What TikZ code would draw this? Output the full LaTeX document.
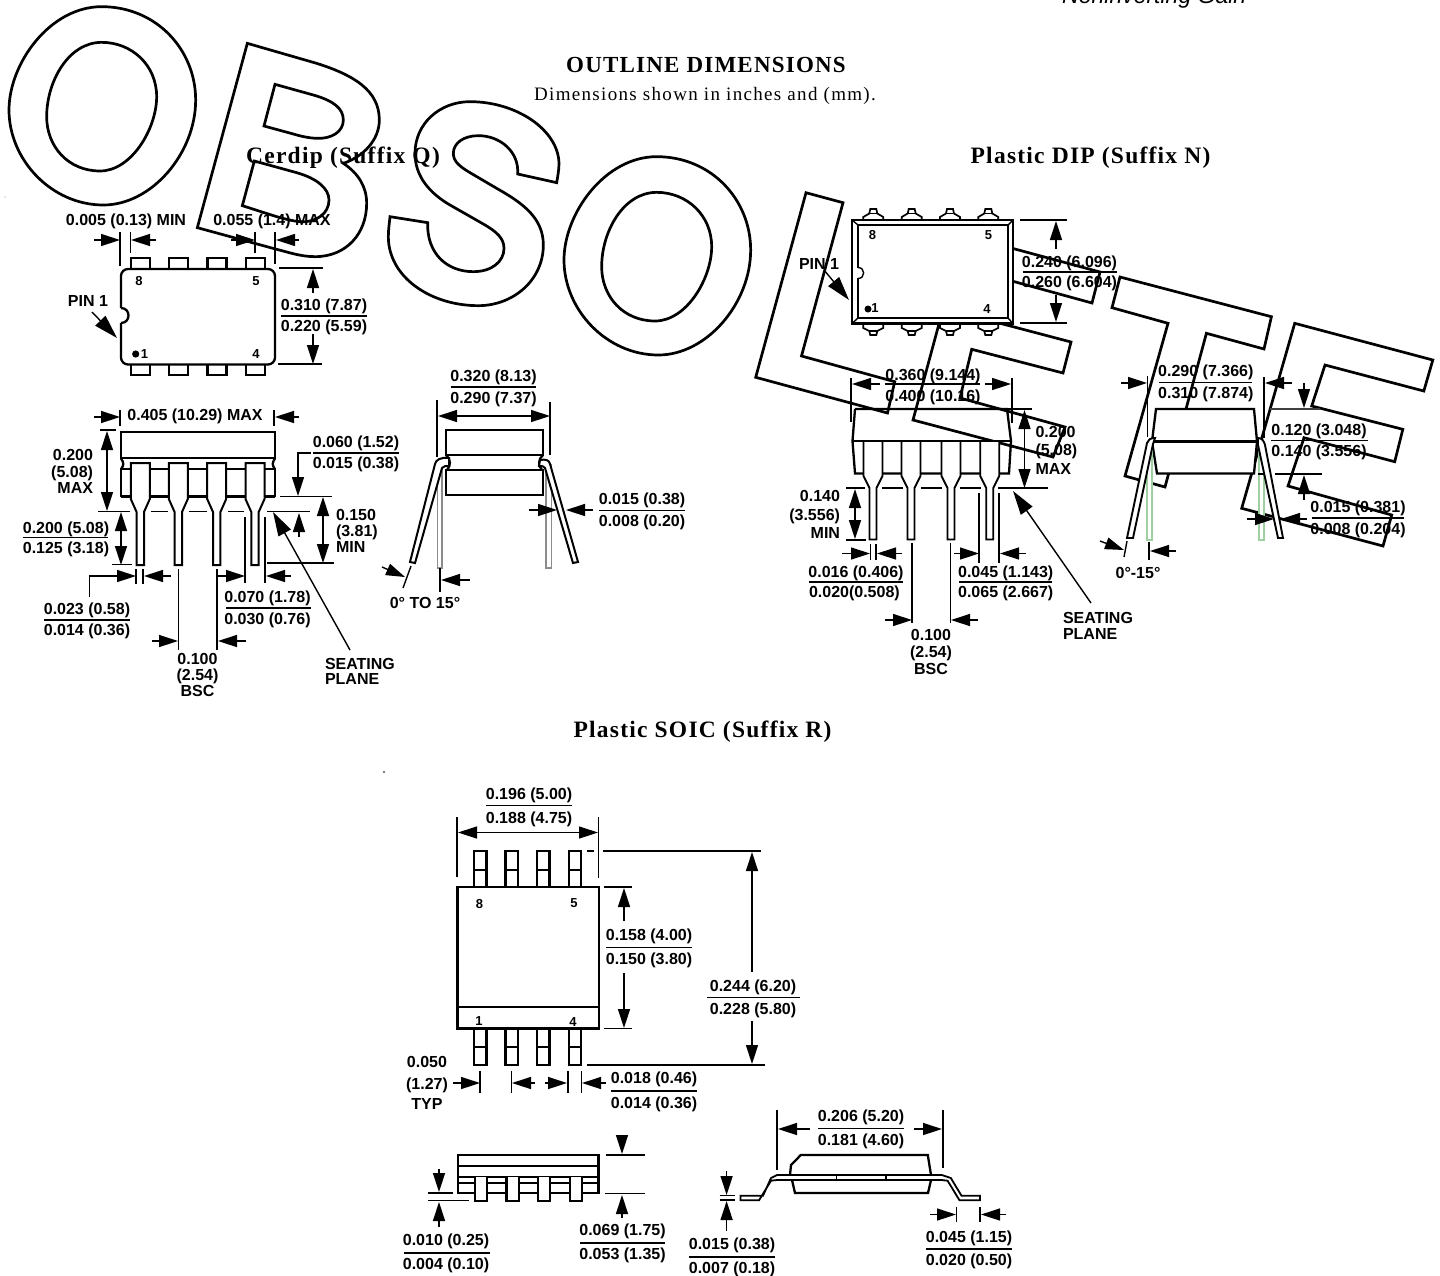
\documentclass[tikz,border=0pt]{standalone}
\usepackage{fontspec}
\setmainfont{Liberation Serif}
\newfontfamily\dimfam{Liberation Sans}
\newfontfamily\headfam{Liberation Serif}[LetterSpace=5.3]
\newfontfamily\subfam{Liberation Serif}[LetterSpace=7]
\newfontfamily\ruhfam{Liberation Sans}
\usetikzlibrary{arrows.meta}
\tikzset{
  dimline/.style={line width=1.4pt},
  dimarrow/.style={line width=1.4pt,-{Triangle[length=19pt,width=12pt]}},
  bothways/.style={line width=1.4pt,{Triangle[length=19pt,width=12pt]}-{Triangle[length=19pt,width=12pt]}},
  longarrow/.style={line width=1.4pt,-{Triangle[length=24pt,width=14pt]}},
  partline/.style={line width=2.3pt,line join=miter},
  letterline/.style={line width=2.7pt,line join=miter},
  dimtext/.style={font=\dimfam\bfseries\fontsize{16}{16}\selectfont,inner sep=0pt,outer sep=0pt},
  pintext/.style={font=\dimfam\bfseries\fontsize{13}{13}\selectfont,inner sep=0pt,outer sep=0pt},
  headtext/.style={font=\headfam\bfseries\fontsize{23}{23}\selectfont,inner sep=0pt},
  subheadtext/.style={font=\headfam\bfseries\fontsize{23.5}{23.5}\selectfont,inner sep=0pt},
  lighttext/.style={font=\subfam\fontsize{19}{19}\selectfont,inner sep=0pt},
  runhead/.style={font=\ruhfam\itshape\fontsize{23}{23}\selectfont,inner sep=0pt},
}
\newcounter{lblno}
% \dl[anchor]{x,y centre}{text}
\newcommand\dl[3][base]{\stepcounter{lblno}\node[dimtext,anchor=#1,yshift=-5.7pt] (d\arabic{lblno}) at (#2) {#3};}
\newcommand\pl[2]{\stepcounter{lblno}\node[pintext,anchor=center] (d\arabic{lblno}) at (#1) {#2};}
% \frc{cx}{y1}{yr}{y2}{x1}{x2}{top}{bottom}
\newcommand\frc[8]{\dl{#1,#2}{#7}\dl{#1,#4}{#8}\draw[dimline] (#5,#3) -- (#6,#3);}
\newcommand\Ostroke{%
  \draw[letterline] (305,20) .. controls (470,20) and (587,150) .. (587,300) .. controls (587,460) and (455,615) .. (310,615) .. controls (155,615) and (27,480) .. (27,330) .. controls (27,190) and (150,20) .. (305,20) -- cycle;
  \draw[letterline] (305,127) .. controls (395,127) and (470,195) .. (470,290) .. controls (470,385) and (395,513) .. (300,513) .. controls (205,513) and (140,440) .. (140,350) .. controls (140,245) and (205,127) .. (305,127) -- cycle;
}
\begin{document}
\begin{tikzpicture}[x=1pt,y=-1pt]
\useasboundingbox (0,0) rectangle (1440,1275);
\clip (0,0) rectangle (1440,1275);
\fill[white] (0,0) rectangle (1440,1275);

% ---- OBSOLETE outline letters ----
\begin{scope}[x=0.33333pt,y=-0.33333pt]
\Ostroke
\draw[letterline] (742,130) -- (950,190) .. controls (1060,225) and (1138,270) .. (1138,360) .. controls (1138,420) and (1090,470) .. (1030,490) .. controls (1075,520) and (1100,560) .. (1100,610) .. controls (1100,700) and (1040,770) .. (945,770) .. controls (900,770) and (860,755) .. (830,748) -- (592,683) -- cycle;
\draw[letterline] (825,253) -- (940,285) .. controls (1000,302) and (1030,325) .. (1030,360) .. controls (1030,395) and (995,417) .. (950,415) .. controls (925,414) and (900,408) .. (880,402) -- (792,378) -- cycle;
\draw[letterline] (763,483) -- (890,518) .. controls (950,535) and (987,565) .. (987,600) .. controls (987,640) and (950,668) .. (900,665) .. controls (875,663) and (850,655) .. (830,650) -- (727,617) -- cycle;
\end{scope}
\begin{scope}[shift={(380,40)},x=0.33333pt,y=-0.33333pt]
\draw[letterline] (530,428) -- (413,402) .. controls (418,335) and (360,287) .. (295,287) .. controls (250,287) and (220,310) .. (220,340) .. controls (220,365) and (240,380) .. (270,398) -- (350,445) .. controls (430,490) and (490,535) .. (490,615) .. controls (490,720) and (400,797) .. (295,797) .. controls (150,797) and (25,710) .. (25,590) .. controls (25,570) and (28,550) .. (30,530) -- (143,548) .. controls (140,640) and (200,695) .. (280,695) .. controls (335,695) and (372,665) .. (372,625) .. controls (372,595) and (350,575) .. (310,552) -- (210,495) .. controls (150,460) and (105,410) .. (105,340) .. controls (105,250) and (180,185) .. (270,185) .. controls (410,185) and (535,270) .. (537,370) .. controls (537,390) and (533,410) .. (530,428) -- cycle;
\end{scope}
\begin{scope}[shift={(555,150)},x=0.33333pt,y=-0.33333pt]
\Ostroke
\end{scope}
% L
\draw[letterline] (806,192.7) -- (843,202.7) -- (801.5,356) -- (894.7,381.7) -- (887.5,413) -- (755.7,377.3) -- cycle;
% E
\draw[letterline] (963,235) -- (1100,272) -- (1092,303) -- (990,275) -- (980,318) -- (1071,342) -- (1063,373) -- (971.7,349.3) -- (960,398) -- (1065,427) -- (1053,457) -- (913,420) -- cycle;
% T
\draw[letterline] (1120,277) -- (1271.4,316.7) -- (1264,349) -- (1206.4,333.3) -- (1165,487) -- (1125,476) -- (1168,323.3) -- (1112,307.7) -- cycle;
% E
\draw[letterline] (1294.7,323.3) -- (1432.8,360) -- (1423.8,391) -- (1325,365) -- (1311.7,406) -- (1402.8,429.3) -- (1394.7,461.7) -- (1304,437.7) -- (1288,486) -- (1391.7,515) -- (1383,546) -- (1241.7,508.3) -- cycle;

% ---- headings ----
\node[runhead,anchor=base west] (runhd) at (1062,3.5) {Noninverting Gain};
\node[headtext,anchor=center] (h1) at (706,65) {OUTLINE DIMENSIONS};
\node[lighttext,anchor=center] (h2) at (705,96) {Dimensions shown in inches and (mm).};
\node[subheadtext,anchor=center] (h3) at (343,158) {Cerdip (Suffix Q)};
\node[subheadtext,anchor=center] (h4) at (1090.5,158) {Plastic DIP (Suffix N)};
\node[subheadtext,anchor=center] (h5) at (702.5,732) {Plastic SOIC (Suffix R)};
\fill[black!40] (5,197) circle (0.7);
\fill (384,772) circle (0.9);

% ---- Cerdip top view ----
\foreach \c in {140.3,178.7,217,255.3}{
  \draw[partline,fill=white] (\c-9.5,269) -- (\c-9.5,258) -- (\c+9.5,258) -- (\c+9.5,269);
  \draw[partline,fill=white] (\c-9.5,365) -- (\c-9.5,375) -- (\c+9.5,375) -- (\c+9.5,365);
}
\draw[partline,fill=white,rounded corners=7pt] (121,269) rectangle (275,364.5);
\fill[white] (119,308) rectangle (122.5,323);
\draw[partline,fill=white] (121,308) .. controls (131,308) and (131,323) .. (121,323);
\pl{139,281}{8}\pl{256,281}{5}\pl{144.5,354}{1}\pl{256,354}{4}
\fill (135.7,354) circle (3.6);
\dl{88,301}{PIN 1}
\draw[longarrow] (92,312) -- (117,338);
\dl{126,219.5}{0.005 (0.13) MIN}
\dl{272,219.5}{0.055 (1.4) MAX}
\draw[dimarrow] (94,240) -- (120,240);
\draw[dimarrow] (156,240) -- (131,240);
\draw[dimline] (120,232) -- (120,266) (130.5,232) -- (130.5,253);
\draw[dimarrow] (231,240) -- (255,240);
\draw[dimarrow] (299,240) -- (276,240);
\draw[dimline] (255,232) -- (255,253) (275,232) -- (275,264);
\draw[dimline] (279,268) -- (323,268) (278,364) -- (322,364);
\draw[dimarrow] (313,293) -- (313,269);
\draw[dimarrow] (313,334) -- (313,364);
\frc{324}{305}{316}{326}{281}{367}{0.310 (7.87)}{0.220 (5.59)}

% ---- Cerdip front view ----
\dl{195,415}{0.405 (10.29) MAX}
\draw[dimarrow] (94,417) -- (120,417);
\draw[dimarrow] (299,417) -- (275,417);
\draw[dimline] (120,410) -- (120,426) (274,410) -- (274,426);
\draw[partline] (121,458.3) -- (121,432) -- (275,432) -- (275,458.3) -- cycle;
\draw[partline] (121,496.5) -- (121,469.3) -- (275,469.3) -- (275,496.5);
\draw[partline] (121,458.3) .. controls (124,463) and (124,465) .. (121,469.3);
\draw[partline] (275,458.3) .. controls (272,463) and (272,465) .. (275,469.3);
\draw[partline] (121,496.5) -- (275,496.5);
\foreach \c in {140.3,178.3,216.7,255}{
  \draw[partline,line width=2pt,fill=white] (\c-9.5,463) -- (\c-9.5,499) -- (\c-3.7,512) -- (\c-3.7,565) -- (\c+3.7,565) -- (\c+3.7,512) -- (\c+9.5,499) -- (\c+9.5,463) -- cycle;
}
\draw[dimline] (98,511.5) -- (130,511.5) (151,511.5) -- (168,511.5) (189,511.5) -- (207,511.5) (228,511.5) -- (244,511.5) (267,511.5) -- (310,511.5);
\draw[dimline] (100,430) -- (116,430);
\draw[bothways] (107,431) -- (107,511);
\dl[base east]{93,455}{0.200}\dl[base east]{93,472}{(5.08)}\dl[base east]{93,488}{MAX}
\draw[bothways] (121,512) -- (121,565);
\draw[dimline] (112,564.5) -- (132,564.5);
\frc{66}{528}{537.7}{548}{23}{107.5}{0.200 (5.08)}{0.125 (3.18)}
\draw[dimline] (89.5,597) -- (89.5,576) -- (120,576);
\draw[dimarrow] (118,576) -- (136,576);
\draw[dimarrow] (171,576) -- (144,576);
\draw[dimline] (136,569) -- (136,584) (143,569) -- (143,584);
\frc{87}{609}{620}{630}{44}{130}{0.023 (0.58)}{0.014 (0.36)}
\draw[dimline] (178.5,569) -- (178.5,650) (217,569) -- (217,650);
\draw[dimarrow] (152,641) -- (178,641);
\draw[dimarrow] (246,641) -- (218,641);
\dl{197.5,659}{0.100}\dl{197.5,675}{(2.54)}\dl{197.5,691}{BSC}
\draw[dimline] (245,517) -- (245,583) (265,517) -- (265,583);
\draw[dimarrow] (217,576) -- (245,576);
\draw[dimarrow] (291,576) -- (266,576);
\frc{267.5}{597}{608}{619}{226}{311}{0.070 (1.78)}{0.030 (0.76)}
\dl[base west]{325,664}{SEATING}\dl[base west]{325,679}{PLANE}
\draw[longarrow] (350,650) -- (273,512);
\frc{356}{442}{453}{463}{313}{399}{0.060 (1.52)}{0.015 (0.38)}
\draw[dimline] (311,453) -- (298,453) -- (298,470);
\draw[dimarrow] (298,470) -- (298,496);
\draw[dimline] (280,496.5) -- (332,496.5);
\draw[dimarrow] (299,537) -- (299,513);
\draw[bothways] (323,497) -- (323,563);
\draw[dimline] (267,563) -- (334,563);
\dl[base west]{336,515}{0.150}\dl[base west]{336,531}{(3.81)}\dl[base west]{336,547}{MIN}

% ---- Cerdip side view ----
\frc{493.5}{376}{387}{398}{451}{536}{0.320 (8.13)}{0.290 (7.37)}
\draw[dimline] (437,400) -- (437,457) (550,402) -- (550,455);
\draw[bothways] (438,416) -- (550,416);
\draw[black!45,line width=1.4pt] (437.5,464) -- (437.5,568) -- (442,568) -- (442,466);
\draw[black!45,line width=1.4pt] (546,464) -- (546,568) -- (551.5,568) -- (551.5,464);
\draw[partline] (446,455) -- (446,430) -- (543,430) -- (543,455) -- cycle;
\draw[partline] (446,470) -- (446,495) -- (543,495) -- (543,470) -- cycle;
\draw[partline] (446,455) .. controls (451,459) and (451,466) .. (447,470);
\draw[partline] (543,455) .. controls (538,459) and (538,466) .. (542,470);
\draw[partline,line width=2pt,fill=white] (449,458) .. controls (440,457) and (436,460) .. (435,464) -- (410,562) -- (415,563) -- (442,468) .. controls (443,466) and (446,466) .. (449,466) -- cycle;
\draw[partline,line width=2pt,fill=white] (540,460) .. controls (546,459) and (549,460) .. (550,464) -- (578,562) -- (573,563) -- (545,468) .. controls (544,466) and (542,466) .. (539,466) -- cycle;
\draw[dimarrow] (529,510) -- (557,510);
\draw[dimarrow] (593,510) -- (566,510);
\frc{642}{499}{510.5}{520.7}{599}{685}{0.015 (0.38)}{0.008 (0.20)}
\draw[dimline] (403,588) -- (411,566);
\draw[dimarrow] (382,567) -- (405,577);
\draw[dimline] (440,568) -- (440,592);
\draw[dimarrow] (470,580) -- (441,580);
\dl{425,603}{0° TO 15°}

% ---- Plastic DIP top view ----
\foreach \c in {873.3,911.7,950,988.3}{
  \draw[line width=1.7pt,fill=white] (\c-10,220) -- (\c-10,217) -- (\c-4,213.5) -- (\c-3,209) -- (\c+3,209) -- (\c+4,213.5) -- (\c+10,217) -- (\c+10,220);
  \draw[line width=1.3pt] (\c-4,213.5) -- (\c+4,213.5);
  \draw[line width=1.7pt,fill=white] (\c-10,324) -- (\c-10,328) -- (\c-4,331) -- (\c-3,335) -- (\c+3,335) -- (\c+4,331) -- (\c+10,328) -- (\c+10,324);
  \draw[line width=1.3pt] (\c-4,331) -- (\c+4,331);
}
\draw[partline,line width=2.7pt,fill=white] (852,220) rectangle (1013,323.5);
\draw[line width=2.2pt] (858,225) rectangle (1008,318);
\draw[line width=1.4pt] (852,220) -- (858,225) (1013,220) -- (1008,225) (852,323.5) -- (858,318) (1013,323.5) -- (1008,318);
\fill[white] (857,268) rectangle (859.5,278);
\draw[line width=1.4pt,fill=white] (858,267.5) .. controls (865.5,267.5) and (865.5,278.5) .. (858,278.5);
\pl{872.6,235}{8}\pl{988.6,235}{5}\pl{875,308}{1}\pl{987,309}{4}
\fill (868,309) circle (3.5);
\dl{819,264}{PIN 1}
\draw[longarrow] (824,270) -- (849,300);
\draw[dimline] (1020,220) -- (1067,220) (1020,323) -- (1067,323);
\draw[dimarrow] (1056,249) -- (1056,221);
\draw[dimarrow] (1056,295) -- (1056,322);
\frc{1069.5}{262}{272}{282}{1023}{1117}{0.240 (6.096)}{0.260 (6.604)}

% ---- Plastic DIP front view ----
\dl{933,374.5}{0.360 (9.144)}\dl{933,396}{0.400 (10.16)}
\draw[dimline] (885,384) -- (980,384);
\draw[dimarrow] (880,384) -- (852,384);
\draw[dimarrow] (985,384) -- (1011,384);
\draw[dimline] (851,378) -- (851,422) (1012,378) -- (1012,423);
\draw[partline] (855,409) -- (1007,409) -- (1011,441);
\draw[partline] (855,409) -- (852.5,441);
\draw[partline] (852.5,441) -- (855,473.5) -- (1009,473.5) -- (1011,441);
\foreach \c in {873,911,951,989.7}{
  \draw[partline,line width=1.9pt,fill=white] (\c-9.5,441) -- (\c-9.5,476) -- (\c-3.5,488) -- (\c-3.5,539.5) -- (\c+3.5,539.5) -- (\c+3.5,488) -- (\c+9.5,476) -- (\c+9.5,441);
}
\draw[partline] (852.5,441) -- (1011,441);
\draw[dimline] (846,488) -- (865,488) (882,488) -- (903,488) (921,488) -- (942,488) (960,488) -- (981,488) (998,488) -- (1048,488);
\draw[bothways] (1024.5,410) -- (1024.5,488);
\draw[dimline] (1008,409) -- (1032,409);
\dl[base west]{1035.5,432}{0.200}\dl[base west]{1035.5,450}{(5.08)}\dl[base west]{1035.5,469}{MAX}
\dl[base east]{840,496}{0.140}\dl[base east]{840,515}{(3.556)}\dl[base east]{840,533}{MIN}
\draw[bothways] (855,489) -- (855,539);
\draw[dimline] (846,540) -- (866,540);
\draw[dimline] (870.7,544) -- (870.7,560) (876,544) -- (876,560);
\draw[dimarrow] (842,553.5) -- (870,553.5);
\draw[dimarrow] (902,553.5) -- (877,553.5);
\dl{856,572}{0.016 (0.406)}
\draw[dimline] (809,582) -- (903,582);
\dl[base west]{809,592}{0.020(0.508)}
\draw[dimline] (912,543) -- (912,623) (950.5,543) -- (950.5,623);
\draw[dimarrow] (885,620) -- (912,620);
\draw[dimarrow] (978,620) -- (951,620);
\dl{931,635}{0.100}\dl{931,652}{(2.54)}\dl{931,669}{BSC}
\draw[dimline] (979,493) -- (979,563) (999,493) -- (999,563);
\draw[dimarrow] (954,553.5) -- (979,553.5);
\draw[dimarrow] (1026,553.5) -- (1000,553.5);
\frc{1005.7}{572}{582}{592}{959}{1052}{0.045 (1.143)}{0.065 (2.667)}
\dl[base west]{1063,618}{SEATING}\dl[base west]{1063,634}{PLANE}
\draw[longarrow] (1091,603) -- (1013,491);

% ---- Plastic DIP side view ----
\draw[partline,fill=white] (1156,409) -- (1254,409) -- (1257,441.5) -- (1254,473.5) -- (1157,473.5) -- (1152,441.5) -- cycle;
\draw[partline] (1152,441.5) -- (1257,441.5);
\draw[color={rgb,255:red,158;green,208;blue,160},line width=1.4pt,fill=white] (1147,445) -- (1147,540) -- (1152,540) -- (1152,445);
\draw[color={rgb,255:red,158;green,208;blue,160},line width=1.4pt,fill=white] (1259,445) -- (1259,540) -- (1264,540) -- (1264,445);
\draw[partline,fill=white,line width=1.9pt] (1155,438) .. controls (1150,438) and (1148,440) .. (1147,443) -- (1127,538) -- (1133,538) -- (1153,444) -- cycle;
\draw[partline,fill=white,line width=1.9pt] (1258,438) .. controls (1262,438) and (1264,441) .. (1265,445) -- (1283,538) -- (1278,538) -- (1258,445) -- cycle;
\frc{1205.8}{371}{382.5}{393}{1159}{1252}{0.290 (7.366)}{0.310 (7.874)}
\draw[dimarrow] (1121,383) -- (1147,383);
\draw[dimarrow] (1292,383) -- (1265,383);
\draw[dimline] (1147.5,376) -- (1147.5,437) (1264,377) -- (1264,438);
\draw[dimline] (1124,557) -- (1127,541);
\draw[dimarrow] (1100,541) -- (1124,550);
\draw[dimline] (1149,542) -- (1149,560);
\draw[dimarrow] (1176,551) -- (1150,551);
\dl{1138,573}{0°-15°}
\draw[dimline,black!75] (1270,409) -- (1320,409);
\draw[dimarrow] (1304,383) -- (1304,408);
\draw[dimarrow] (1304,500) -- (1304,475);
\draw[dimline] (1258,474) -- (1265,474) (1275,474) -- (1322,474);
\frc{1319}{430}{440.5}{451}{1271}{1368}{0.120 (3.048)}{0.140 (3.556)}
\draw[dimarrow] (1247,519) -- (1274,519);
\draw[dimarrow] (1307,519) -- (1281,519);
\frc{1358}{507}{518}{529}{1312}{1404}{0.015 (0.381)}{0.008 (0.204)}

% ---- SOIC top view ----
\frc{529}{794}{805.5}{818}{486}{572}{0.196 (5.00)}{0.188 (4.75)}
\draw[dimline] (457,817) -- (457,877) (598.5,817) -- (598.5,878);
\draw[bothways] (458,832.5) -- (598,832.5);
\foreach \c in {480.3,511.7,543.3,575}{
  \draw[partline,fill=white] (\c-6.3,851) rectangle (\c+6.3,887);
  \draw[partline] (\c-6.3,870) -- (\c+6.3,870);
  \draw[partline,fill=white] (\c-6.3,1029) rectangle (\c+6.3,1065);
  \draw[partline] (\c-6.3,1047) -- (\c+6.3,1047);
}
\draw[partline,fill=white] (457.5,887) rectangle (599,1028.5);
\draw[partline] (457.5,1007) -- (599,1007);
\pl{479.5,904}{8}\pl{574,903.5}{5}\pl{479,1021}{1}\pl{573,1022}{4}
\draw[dimline] (587,851) -- (594,851) (603,851) -- (761,851) (587,1065) -- (765,1065);
\draw[dimline] (752,880) -- (752,972) (752,1021) -- (752,1040);
\draw[dimarrow] (752,880) -- (752,852);
\draw[dimarrow] (752,1030) -- (752,1064);
\frc{753}{986}{997.5}{1009}{707}{800}{0.244 (6.20)}{0.228 (5.80)}
\draw[dimline] (604,887) -- (632,887) (604,1028.5) -- (632,1028.5);
\draw[dimarrow] (624,921) -- (624,888);
\draw[dimarrow] (624,973) -- (624,1028);
\frc{649}{935}{947.5}{959}{606}{692}{0.158 (4.00)}{0.150 (3.80)}
\dl{427,1062}{0.050}\dl{427,1084}{(1.27)}\dl{427,1104}{TYP}
\draw[dimarrow] (453,1083) -- (480,1083);
\draw[dimline] (480,1071) -- (480,1093) (511.5,1071) -- (511.5,1093) (568,1071) -- (568,1093) (581.5,1071) -- (581.5,1093);
\draw[dimarrow] (535,1083) -- (512,1083);
\draw[dimarrow] (545,1083) -- (567,1083);
\draw[dimarrow] (606,1083) -- (582,1083);
\frc{654}{1078}{1091}{1103}{611}{697}{0.018 (0.46)}{0.014 (0.36)}

% ---- SOIC front view ----
\draw[partline] (458.3,1155) rectangle (598.4,1193);
\draw[partline] (458.3,1166) -- (598.4,1166) (458.3,1176.7) -- (598.4,1176.7) (458.3,1183) -- (598.4,1183);
\foreach \c in {481,512.7,544,576}{
  \draw[partline,fill=white] (\c-6.3,1177) -- (\c-6.3,1201) -- (\c+6.3,1201) -- (\c+6.3,1177);
}
\draw[dimarrow] (439,1169) -- (439,1192);
\draw[dimarrow] (439,1227) -- (439,1202);
\draw[dimline] (428,1193) -- (453,1193) (428,1200.5) -- (469,1200.5);
\frc{446}{1240}{1253}{1264}{404}{490}{0.010 (0.25)}{0.004 (0.10)}
\draw[dimline] (606,1155) -- (645,1155) (605,1193.5) -- (645,1193.5);
\draw[dimarrow] (622,1135) -- (622,1154);
\draw[dimarrow] (622,1218) -- (622,1195);
\frc{622.5}{1230}{1243}{1254}{580}{665}{0.069 (1.75)}{0.053 (1.35)}

% ---- SOIC side view ----
\draw[partline] (790,1175) -- (791,1165) -- (800.8,1155) -- (927.8,1155) -- (931,1175);
\draw[partline] (792,1180) -- (795,1193) -- (928,1193) -- (931,1180);
\draw[partline,line width=1.8pt] (740.5,1195.7) -- (763,1195.7) -- (771,1178) -- (777,1175) -- (941.7,1175) -- (950.8,1178) -- (961.5,1195.7) -- (980,1195.7) -- (980,1200.3) -- (959.5,1200.3) -- (947.6,1180.7) -- (941.7,1180) -- (777,1180) -- (771,1180.7) -- (759,1200.3) -- (740.5,1200.3) -- cycle;
\draw[line width=2.2pt] (808,1180) -- (836.5,1180) (886,1180) -- (931,1180);
\draw[dimline] (836.5,1175) -- (836.5,1180) (886,1175) -- (886,1180);
\draw[dimline] (777,1110) -- (777,1170) (943,1110) -- (943,1168);
\draw[dimarrow] (810,1129) -- (778,1129);
\draw[dimarrow] (914,1129) -- (942,1129);
\frc{861}{1116}{1128.5}{1140}{818}{904}{0.206 (5.20)}{0.181 (4.60)}
\draw[dimarrow] (726.6,1171) -- (726.6,1195);
\draw[dimarrow] (726.6,1231) -- (726.6,1201);
\draw[dimline] (719.5,1195.7) -- (735,1195.7) (719.5,1200) -- (735,1200);
\frc{732}{1244}{1257}{1268}{689}{775}{0.015 (0.38)}{0.007 (0.18)}
\draw[dimline] (956.7,1207) -- (956.7,1222) (980,1207) -- (980,1222);
\draw[dimarrow] (930,1214.5) -- (956,1214.5);
\draw[dimarrow] (1006,1214.5) -- (981,1214.5);
\frc{969}{1237}{1249}{1260}{926}{1012}{0.045 (1.15)}{0.020 (0.50)}
\end{tikzpicture}
\end{document}
